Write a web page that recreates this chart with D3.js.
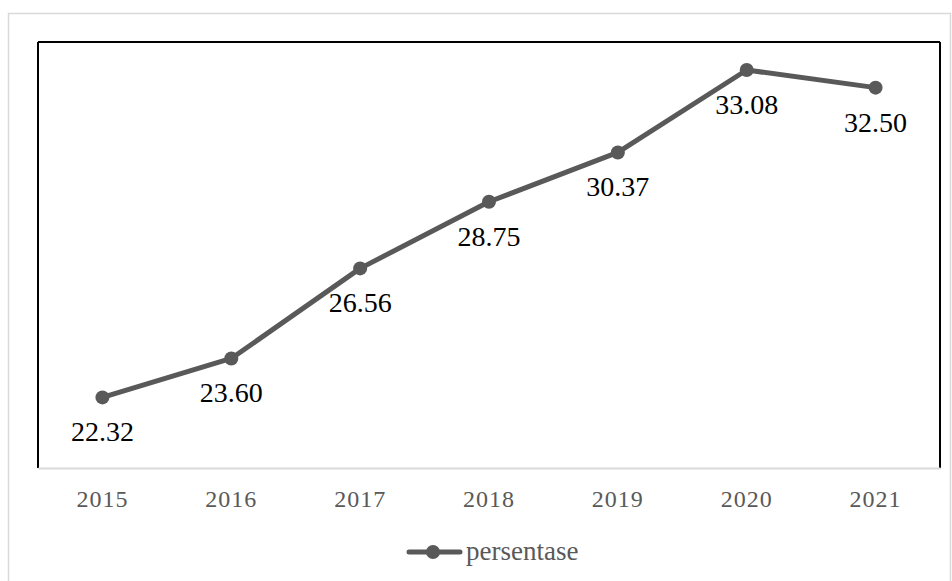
<!DOCTYPE html>
<html><head><meta charset="utf-8">
<script src="https://cdn.jsdelivr.net/npm/d3@7"></script>
<style>body{margin:0;background:#fff}svg{display:block}</style>
</head><body>
<script>
const years = ["2015","2016","2017","2018","2019","2020","2021"];
const values = [22.32, 23.60, 26.56, 28.75, 30.37, 33.08, 32.50];
const labels = ["22.32","23.60","26.56","28.75","30.37","33.08","32.50"];
const seriesName = "persentase";

const W = 952, H = 581;
const svg = d3.select("body").append("svg").attr("width", W).attr("height", H);
const font = "'Liberation Serif', 'DejaVu Serif', serif";
const grey = "#595959";

svg.append("rect").attr("x", 8.5).attr("y", 13.5).attr("width", 942).attr("height", 600)
  .attr("fill", "none").attr("stroke", "#d9d9d9").attr("stroke-width", 1.5);

const L = 38, R = 940, T = 42, B = 468;
const x = d3.scaleBand().domain(years).range([L, R]);
const y = d3.scaleLinear().domain([20, 34]).range([B, T]);

const g = svg.append("g");
g.append("line").attr("x1", L).attr("x2", R).attr("y1", T).attr("y2", T).attr("stroke", "#000").attr("stroke-width", 2);
g.append("line").attr("x1", L).attr("x2", L).attr("y1", T).attr("y2", B).attr("stroke", "#000").attr("stroke-width", 2);
g.append("line").attr("x1", R).attr("x2", R).attr("y1", T).attr("y2", B).attr("stroke", "#000").attr("stroke-width", 2);

const xAxis = svg.append("g").attr("transform", `translate(0,${B})`)
  .call(d3.axisBottom(x).tickSize(0).tickPadding(22));
xAxis.select(".domain").attr("stroke", "#d9d9d9").attr("stroke-width", 2);
xAxis.selectAll("text").style("font-family", font).style("font-size", "24px")
  .attr("fill", grey).attr("letter-spacing", 1);

const cx = d => x(d) + x.bandwidth() / 2;
const line = d3.line().x((d, i) => cx(years[i])).y(d => y(d));
svg.append("path").datum(values).attr("d", line).attr("fill", "none")
  .attr("stroke", grey).attr("stroke-width", 5).attr("stroke-linejoin", "round").attr("stroke-linecap", "round");

svg.selectAll("circle.pt").data(values).join("circle").attr("class", "pt")
  .attr("cx", (d, i) => cx(years[i])).attr("cy", d => y(d)).attr("r", 7).attr("fill", grey);

svg.selectAll("text.lbl").data(values).join("text").attr("class", "lbl")
  .attr("x", (d, i) => cx(years[i])).attr("y", d => y(d) + 44)
  .attr("text-anchor", "middle").style("font-family", font).style("font-size", "28px")
  .attr("fill", "#000").text((d, i) => labels[i]);

const lg = svg.append("g");
lg.append("line").attr("x1", 409).attr("x2", 460).attr("y1", 552).attr("y2", 552)
  .attr("stroke", grey).attr("stroke-width", 5).attr("stroke-linecap", "round");
lg.append("circle").attr("cx", 433).attr("cy", 552).attr("r", 7).attr("fill", grey);
lg.append("text").attr("x", 466).attr("y", 560).style("font-family", font).style("font-size", "27px")
  .attr("fill", grey).text(seriesName);
</script>
</body></html>
